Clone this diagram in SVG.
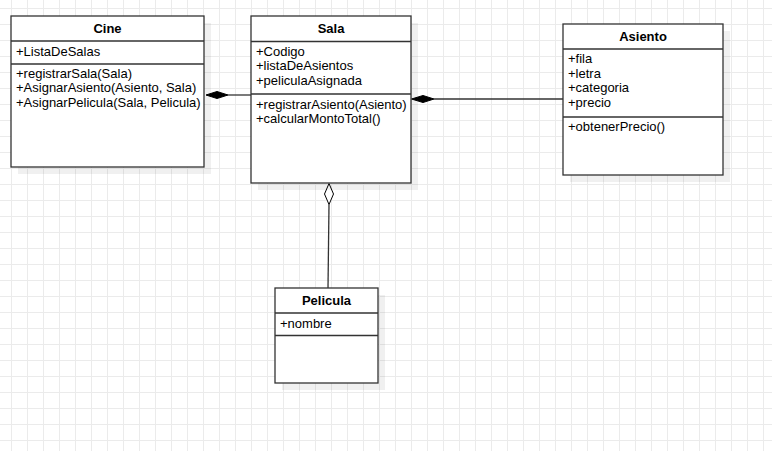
<svg xmlns="http://www.w3.org/2000/svg" width="772" height="451" viewBox="0 0 772 451">
  <defs>
    <pattern id="grid" patternUnits="userSpaceOnUse" x="11" y="8" width="16" height="16">
      <path d="M0.5 0V16M0 0.5H16" fill="none" stroke="#ebebeb" stroke-width="1"/>
    </pattern>
    <style>
      .shadow { fill: #000; fill-opacity: 0.06; }
      .box { fill: #fff; stroke: #333; stroke-width: 1.3; }
      .sep { stroke: #333; stroke-width: 1.3; }
      .title { font-family: "Liberation Sans", Arial, sans-serif; font-size: 13px; font-weight: bold; fill: #000; text-anchor: middle; }
      .item { font-family: "Liberation Sans", Arial, sans-serif; font-size: 13px; fill: #000; }
      .edge { stroke: #333; stroke-width: 1.3; fill: none; }
      .filled { fill: #000; stroke: #000; stroke-width: 1; }
      .hollow { fill: #fff; stroke: #000; stroke-width: 1; }
    </style>
  </defs>

  <rect width="772" height="451" fill="#fff"/>
  <rect width="772" height="451" fill="url(#grid)"/>

  <!-- associations -->
  <g id="connectors">
    <!-- Cine ◆— Sala -->
    <line class="edge" x1="228" y1="95" x2="251" y2="95"/>
    <polygon class="filled" points="206,95 217,91.5 228,95 217,98.5"/>
    <!-- Sala ◆— Asiento -->
    <line class="edge" x1="434" y1="99" x2="563" y2="99"/>
    <polygon class="filled" points="411.5,99 423,95.5 434,99 423,102.5"/>
    <!-- Sala ◇— Pelicula -->
    <line class="edge" x1="329" y1="204.5" x2="328" y2="288"/>
    <polygon class="hollow" points="329,183.5 333.5,194 329,204.5 324.5,194"/>
  </g>

  <g id="cine">
    <rect class="shadow" x="18" y="23" width="193" height="151"/>
    <rect class="box" x="11" y="16" width="193" height="151"/>
    <line class="sep" x1="11" y1="41" x2="204" y2="41"/>
    <line class="sep" x1="11" y1="64" x2="204" y2="64"/>
    <text class="title" x="107.5" y="32.5">Cine</text>
    <text class="item" x="16" y="55.7">+ListaDeSalas</text>
    <text class="item" x="16" y="77.5">+registrarSala(Sala)</text>
    <text class="item" x="16" y="92">+AsignarAsiento(Asiento, Sala)</text>
    <text class="item" x="16" y="106.5">+AsignarPelicula(Sala, Pelicula)</text>
  </g>

  <g id="sala">
    <rect class="shadow" x="258" y="23" width="160" height="167"/>
    <rect class="box" x="251" y="16" width="160" height="167"/>
    <line class="sep" x1="251" y1="41.5" x2="411" y2="41.5"/>
    <line class="sep" x1="251" y1="94" x2="411" y2="94"/>
    <text class="title" x="331" y="32.5">Sala</text>
    <text class="item" x="256" y="55.7">+Codigo</text>
    <text class="item" x="256" y="70.3">+listaDeAsientos</text>
    <text class="item" x="256" y="84.8">+peliculaAsignada</text>
    <text class="item" x="256" y="108.5">+registrarAsiento(Asiento)</text>
    <text class="item" x="256" y="123">+calcularMontoTotal()</text>
  </g>

  <g id="asiento">
    <rect class="shadow" x="570" y="31" width="160" height="151"/>
    <rect class="box" x="563" y="24" width="160" height="151"/>
    <line class="sep" x1="563" y1="49" x2="723" y2="49"/>
    <line class="sep" x1="563" y1="117" x2="723" y2="117"/>
    <text class="title" x="643" y="41">Asiento</text>
    <text class="item" x="568" y="63.3">+fila</text>
    <text class="item" x="568" y="77.8">+letra</text>
    <text class="item" x="568" y="92.3">+categoria</text>
    <text class="item" x="568" y="106.8">+precio</text>
    <text class="item" x="568" y="131">+obtenerPrecio()</text>
  </g>

  <g id="pelicula">
    <rect class="shadow" x="282" y="295" width="103" height="95"/>
    <rect class="box" x="275" y="288" width="103" height="95"/>
    <line class="sep" x1="275" y1="313" x2="378" y2="313"/>
    <line class="sep" x1="275" y1="335.5" x2="378" y2="335.5"/>
    <text class="title" x="326.5" y="304.5">Pelicula</text>
    <text class="item" x="280" y="328">+nombre</text>
  </g>
</svg>
